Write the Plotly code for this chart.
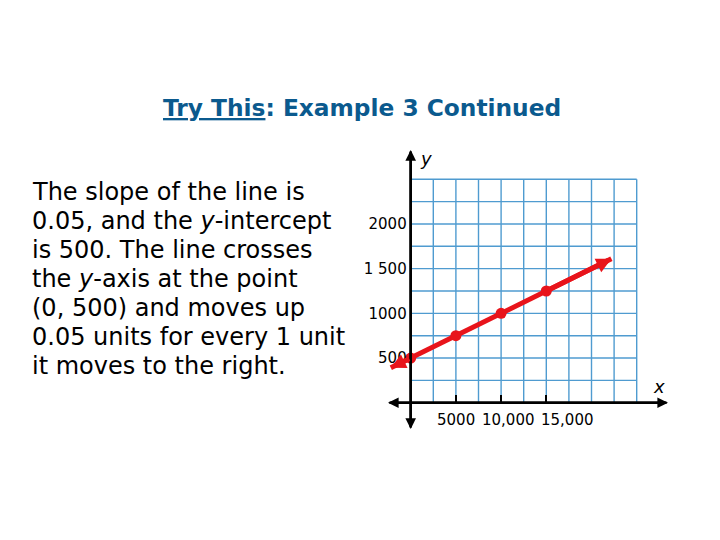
import plotly.graph_objects as go

# data
pts_x = [0, 5000, 10000, 15000]
pts_y = [500, 750, 1000, 1250]
end_x = [-2200, 22200]
end_y = [390, 1610]
y_ticks = [500, 1000, 1500, 2000]
y_ticktext = ["500", "1000", "1 500", "2000"]
x_ticks = [5000, 10000, 15000]
x_ticktext = ["5000", "10,000", "15,000"]
grid_x = [0, 2500, 5000, 7500, 10000, 12500, 15000, 17500, 20000, 22500, 25000]
grid_y = [0, 250, 500, 750, 1000, 1250, 1500, 1750, 2000, 2250, 2500]
body_lines = [
    "The slope of the line is",
    "0.05, and the <i>y</i>-intercept",
    "is 500. The line crosses",
    "the <i>y</i>-axis at the point",
    "(0, 500) and moves up",
    "0.05 units for every 1 unit",
    "it moves to the right.",
]

W, H = 720, 540
OFF = 8  # page body margin in the browser

def PX(x):  # reference pixel x -> paper fraction
    return (x - OFF) / W

def PY(y):  # reference pixel y -> paper fraction
    return 1 - (y - OFF) / H

# pixel geometry (reference pixels)
x0_px, xs = 410.7, 22.6 / 2500
y0_px, ys = 402.7, 22.34 / 250
dom_l, dom_r, dom_t, dom_b = 370, 690, 140, 440
xr = [(dom_l - x0_px) / xs, (dom_r - x0_px) / xs]
yr = [(y0_px - dom_b) / ys, (y0_px - dom_t) / ys]

def DX(px):
    return (px - x0_px) / xs

def DY(py):
    return (y0_px - py) / ys

RED = "#e8141b"
GRID = "#4f9bd0"
FONT = "DejaVu Sans"

fig = go.Figure()
fig.add_trace(go.Scatter(x=[end_x[0]] + pts_x + [end_x[1]],
                         y=[end_y[0]] + pts_y + [end_y[1]],
                         mode="lines", line=dict(color=RED, width=5),
                         hoverinfo="skip", showlegend=False))
fig.add_trace(go.Scatter(x=pts_x, y=pts_y, mode="markers",
                         marker=dict(color=RED, size=11),
                         showlegend=False))

shapes = []
for gx in grid_x:
    shapes.append(dict(type="line", xref="x", yref="y", x0=gx, x1=gx,
                       y0=grid_y[0], y1=grid_y[-1],
                       line=dict(color=GRID, width=1.4), layer="below"))
for gy in grid_y[1:]:
    shapes.append(dict(type="line", xref="x", yref="y", y0=gy, y1=gy,
                       x0=grid_x[0], x1=grid_x[-1],
                       line=dict(color=GRID, width=1.4), layer="below"))

anns = []
def arrow(tx, ty, fx, fy, color, width, size):
    anns.append(dict(x=tx, y=ty, ax=fx, ay=fy, xref="x", yref="y",
                     axref="x", ayref="y", text="", showarrow=True,
                     arrowhead=2, arrowsize=size, arrowwidth=width,
                     arrowcolor=color, standoff=0, startstandoff=0))

# axes (double arrows: two overlapping full-length arrows)
ytop, ybot = DY(150), DY(429)
xleft, xright = DX(388), DX(668)
arrow(0, ytop, 0, ybot, "black", 2.5, 0.85)
arrow(0, ybot, 0, ytop, "black", 2.5, 0.85)
arrow(xleft, 0, xright, 0, "black", 2.5, 0.85)
arrow(xright, 0, xleft, 0, "black", 2.5, 0.85)
# red line arrowheads
arrow(end_x[1], end_y[1], pts_x[-1], pts_y[-1], RED, 5, 0.6)
arrow(end_x[0], end_y[0], pts_x[0], pts_y[0], RED, 5, 0.6)

anns.append(dict(x=DX(426), y=DY(158), xref="x", yref="y",
                 text="<i>y</i>", showarrow=False,
                 font=dict(family=FONT, size=18, color="black")))
anns.append(dict(x=DX(659), y=DY(386), xref="x", yref="y",
                 text="<i>x</i>", showarrow=False,
                 font=dict(family=FONT, size=18, color="black")))

# x tick labels (slightly staggered to the right as in the original)
x_label_dx = [0, 7, 21]
for v, t, dx in zip(x_ticks, x_ticktext, x_label_dx):
    anns.append(dict(x=v, y=0, xref="x", yref="y", text=t, showarrow=False,
                     xanchor="center", yanchor="top", xshift=dx, yshift=-6,
                     font=dict(family=FONT, size=15, color="black")))

anns.append(dict(x=PX(362), y=PY(108), xref="paper", yref="paper",
                 text="<b><u>Try This</u>: Example 3 Continued</b>",
                 showarrow=False, xanchor="center", yanchor="middle",
                 font=dict(family=FONT, size=23.3, color="#0b5a8e")))

for i, line in enumerate(body_lines):
    anns.append(dict(x=PX(30), y=PY(192 + 29 * i), xref="paper", yref="paper",
                     text=line, showarrow=False, xanchor="left",
                     yanchor="middle", align="left",
                     font=dict(family=FONT, size=24, color="black")))

fig.update_layout(
    width=W, height=H, margin=dict(l=0, r=0, t=0, b=0, autoexpand=False),
    paper_bgcolor="white", plot_bgcolor="white",
    shapes=shapes, annotations=anns,
    xaxis=dict(domain=[PX(dom_l), PX(dom_r)], range=xr, showgrid=False,
               zeroline=False, showline=False, anchor="free",
               position=PY(y0_px), tickvals=x_ticks, showticklabels=False,
               ticks="inside", ticklen=8, tickwidth=1.5, tickcolor="black"),
    yaxis=dict(domain=[PY(dom_b), PY(dom_t)], range=yr,
               showgrid=False, zeroline=False, showline=False, anchor="free",
               position=PX(x0_px), tickvals=y_ticks, ticktext=y_ticktext,
               ticks="", ticklabelstandoff=4,
               tickfont=dict(family=FONT, size=15, color="black")),
)
fig.write_html("out.html")
